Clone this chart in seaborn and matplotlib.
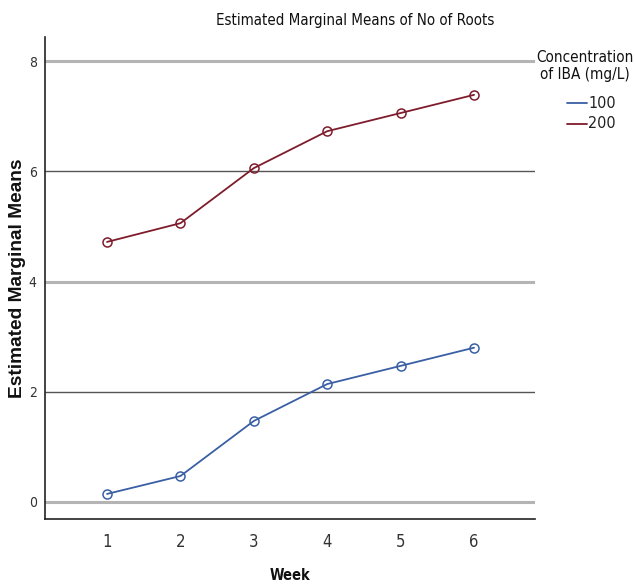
import matplotlib
matplotlib.use("Agg")
import matplotlib.pyplot as plt
from matplotlib import font_manager
import seaborn as sns
import pandas as pd

weeks = [1, 2, 3, 4, 5, 6]
roots_100 = [0.145, 0.47, 1.47, 2.14, 2.47, 2.80]
roots_200 = [4.72, 5.06, 6.06, 6.73, 7.06, 7.39]
concentrations = ["100", "200"]
y_ticks = [0, 2, 4, 6, 8]

df = pd.DataFrame({
    "Week": weeks * 2,
    "Mean": roots_100 + roots_200,
    "Concentration": [concentrations[0]] * 6 + [concentrations[1]] * 6,
})

sns.set_theme(style="white")
plt.rcParams["font.family"] = ["DejaVu Sans", "Liberation Sans"]
plt.rcParams["font.stretch"] = "condensed"
NARROW = dict(family="DejaVu Sans", fontstretch="condensed")

# wide bold face for the value-axis title
arial_bold_path = font_manager.findfont(
    font_manager.FontProperties(family="Liberation Sans", weight="bold", stretch="normal"))
ylab_font = font_manager.FontProperties(fname=arial_bold_path, size=13.8)

palette = {"100": "#3A5FA5", "200": "#7E1C2C"}

fig = plt.figure(figsize=(6.35, 5.84), dpi=100)
ax = fig.add_axes([45 / 635, 1 - 519 / 584, 490 / 635, 482 / 584])

# horizontal reference lines, alternating weight
for v in y_ticks:
    if v % 4 == 0:
        ax.axhline(v, color="#b4b4b4", lw=2.2, zorder=0)
    else:
        ax.axhline(v, color="#555555", lw=1.0, zorder=0)

sns.lineplot(data=df, x="Week", y="Mean", hue="Concentration", palette=palette,
             marker="o", markersize=6.5, markerfacecolor="none", markeredgewidth=1.1,
             lw=1.3, ax=ax, legend=False)
for line, c in zip(ax.lines[-2:], ["100", "200"]):
    line.set_markeredgecolor(palette[c])

ax.set_xlim(0.155, 6.83)
ax.set_ylim(-0.31, 8.44)
ax.set_xticks(weeks)
ax.set_yticks(y_ticks)
ax.tick_params(axis="x", labelsize=12, colors="#333333", length=0, pad=10)
ax.tick_params(axis="y", labelsize=10, colors="#333333", length=0, pad=6)
for lab in ax.get_xticklabels() + ax.get_yticklabels():
    lab.set_fontstretch("condensed")
for s in ["top", "right"]:
    ax.spines[s].set_visible(False)
for s in ["left", "bottom"]:
    ax.spines[s].set_color("#222222")
    ax.spines[s].set_linewidth(1.2)

ax.set_xlabel("")
ax.set_ylabel("")
fig.text(290 / 635, 1 - 575 / 584, "Week", ha="center", va="center",
         fontsize=10.5, fontweight="bold", color="#111111", **NARROW)
fig.text(17.5 / 635, 1 - 278 / 584, "Estimated Marginal Means", ha="center", va="center",
         rotation=90, color="#111111", fontproperties=ylab_font)
fig.text(355 / 635, 1 - 21 / 584, "Estimated Marginal Means of No of Roots",
         ha="center", va="center", fontsize=10.8, color="#111111", **NARROW)

# legend
fig.text(585 / 635, 1 - 66 / 584, "Concentration\nof IBA (mg/L)", ha="center", va="center",
         fontsize=11, linespacing=1.25, color="#111111", **NARROW)
for i, c in enumerate(concentrations):
    yy = 1 - (103 + 21 * i) / 584
    fig.add_artist(plt.Line2D([567 / 635, 587 / 635], [yy, yy], color=palette[c], lw=1.3))
    fig.text(588 / 635, yy, c, ha="left", va="center", fontsize=11.5, color="#222222",
             **NARROW)

fig.savefig("out.png", dpi=100)
